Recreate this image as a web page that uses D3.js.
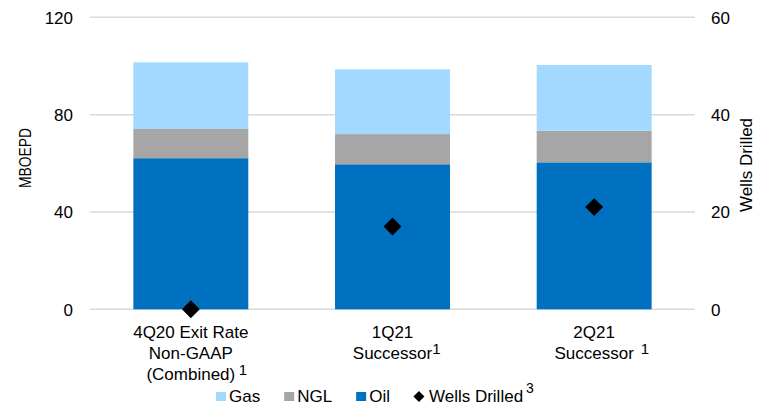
<!DOCTYPE html>
<html>
<head>
<meta charset="utf-8">
<script src="https://cdn.jsdelivr.net/npm/d3@7"></script>
<style>
  body { margin: 0; background: #fff; }
  text { font-family: "Liberation Sans", Arial, sans-serif; fill: #000; }
  .grid line { stroke: #d9d9d9; stroke-width: 1.5; }
</style>
</head>
<body>
<svg id="chart"></svg>
<script>
/* DATA */
var categories = ["4Q20", "1Q21", "2Q21"];
var labelLines = [
  ["4Q20 Exit Rate", "Non-GAAP", "(Combined)"],
  ["1Q21", "Successor"],
  ["2Q21", "Successor"]
];
var labelSup = [" 1", "1", "  1"];
var oil = [62.1, 59.6, 60.4];
var ngl = [12.0, 12.4, 13.0];
var gas = [27.4, 26.6, 27.0];
var wellsDrilled = [0, 17, 21];
var leftTicks = [0, 40, 80, 120];
var rightTicks = [0, 20, 40, 60];
var seriesNames = ["Gas", "NGL", "Oil"];

/* SETUP */
var width = 763;
var height = 405;
var plotLeft = 90, plotRight = 695, plotTop = 17.3, plotBottom = 309.3;
var colors = { Gas: "#a3d9ff", NGL: "#a6a6a6", Oil: "#0070c0" };

var svg = d3.select("svg#chart")
  .attr("width", width)
  .attr("height", height);

var x = d3.scaleBand()
  .domain(categories)
  .range([plotLeft, plotRight])
  .paddingInner(0.43)
  .paddingOuter(0.215);

var y = d3.scaleLinear().domain([0, 120]).range([plotBottom, plotTop]);
var y2 = d3.scaleLinear().domain([0, 60]).range([plotBottom, plotTop]);

/* GRID */
var grid = svg.append("g").attr("class", "grid");
grid.selectAll("line")
  .data(leftTicks)
  .enter()
  .append("line")
  .attr("x1", plotLeft)
  .attr("x2", plotRight)
  .attr("y1", d => y(d))
  .attr("y2", d => y(d));

/* STACKED BARS */
var rows = categories.map((c, i) => ({ cat: c, Oil: oil[i], NGL: ngl[i], Gas: gas[i] }));
var stack = d3.stack().keys(["Oil", "NGL", "Gas"]);
var layers = stack(rows);

svg.append("g").selectAll("g")
  .data(layers)
  .enter()
  .append("g")
  .attr("fill", d => colors[d.key])
  .selectAll("rect")
  .data(d => d)
  .enter()
  .append("rect")
  .attr("x", d => x(d.data.cat))
  .attr("width", x.bandwidth())
  .attr("y", d => y(d[1]))
  .attr("height", d => y(d[0]) - y(d[1]));

/* WELLS DRILLED MARKERS */
var diamond = d3.symbol().type(d3.symbolSquare).size(160);
svg.append("g").selectAll("path")
  .data(wellsDrilled)
  .enter()
  .append("path")
  .attr("d", diamond)
  .attr("fill", "#000")
  .attr("transform", (d, i) => "translate(" + (x(categories[i]) + x.bandwidth() / 2) + "," + y2(d) + ") rotate(45)");

/* AXES */
var leftAxis = svg.append("g")
  .attr("transform", translate(73, 0))
  .call(d3.axisLeft(y).tickValues(leftTicks).tickSize(0).tickPadding(0));
leftAxis.select(".domain").remove();
leftAxis.selectAll("text")
  .attr("dy", "0.35em")
  .style("font-size", "17px")
  .style("font-family", "Liberation Sans, Arial, sans-serif");

var rightAxis = svg.append("g")
  .attr("transform", translate(711, 0))
  .call(d3.axisRight(y2).tickValues(rightTicks).tickSize(0).tickPadding(0));
rightAxis.select(".domain").remove();
rightAxis.selectAll("text")
  .attr("dy", "0.35em")
  .style("font-size", "17px")
  .style("font-family", "Liberation Sans, Arial, sans-serif");

svg.append("text")
  .attr("transform", translate(30.5, 158) + " rotate(-90)")
  .attr("text-anchor", "middle")
  .attr("textLength", 60)
  .attr("lengthAdjust", "spacingAndGlyphs")
  .style("font-size", "16px")
  .text("MBOEPD");

svg.append("text")
  .attr("transform", translate(752, 165) + " rotate(-90)")
  .attr("text-anchor", "middle")
  .style("font-size", "17px")
  .text("Wells Drilled");

/* CATEGORY LABELS */
categories.forEach(function(c, i) {
  var cx = x(c) + x.bandwidth() / 2;
  var lines = labelLines[i];
  var g = svg.append("g");
  var last = null;
  lines.forEach(function(line, j) {
    last = g.append("text")
      .attr("x", cx)
      .attr("y", plotBottom + 29 + j * 21)
      .attr("text-anchor", "middle")
      .style("font-size", "17px")
      .text(line);
  });
  var w = last.node().getComputedTextLength();
  var sup = labelSup[i];
  var gap = (sup.length - 1) * 3.5;
  g.append("text")
    .attr("x", cx + w / 2 + gap)
    .attr("y", plotBottom + 29 + (lines.length - 1) * 21 - 5)
    .style("font-size", "15px")
    .text(sup.trim());
});

/* LEGEND */
var legend = svg.append("g").attr("transform", translate(216, 0));
var lx = 0;
seriesNames.forEach(function(name) {
  legend.append("rect")
    .attr("x", lx)
    .attr("y", 392)
    .attr("width", 10)
    .attr("height", 9)
    .attr("fill", colors[name]);
  var t = legend.append("text")
    .attr("x", lx + 13)
    .attr("y", 401.5)
    .style("font-size", "17px")
    .text(name);
  lx += 13 + t.node().getComputedTextLength() + 24;
});
legend.append("path")
  .attr("d", d3.symbol().type(d3.symbolSquare).size(60))
  .attr("fill", "#000")
  .attr("transform", translate(lx + 5, 396.5) + " rotate(45)");
var wt = legend.append("text")
  .attr("x", lx + 15)
  .attr("y", 401.5)
  .style("font-size", "17px")
  .text("Wells Drilled");
legend.append("text")
  .attr("x", lx + 15 + wt.node().getComputedTextLength() + 3)
  .attr("y", 393)
  .style("font-size", "14px")
  .text("3");

/* HELPER FUNCTION */
function translate(x, y) {
  return "translate(" + String(x) + "," + String(y) + ")";
}
</script>
</body>
</html>
